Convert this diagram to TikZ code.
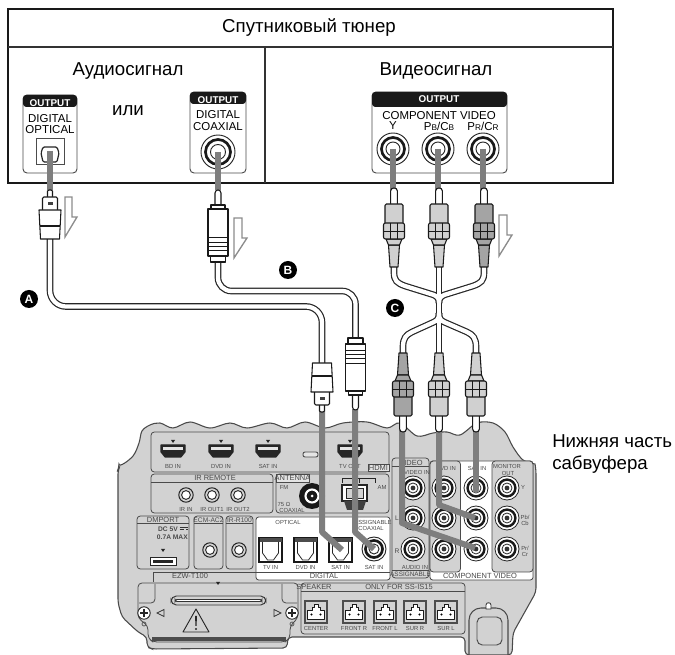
\documentclass[tikz,border=0pt]{standalone}
\usepackage{fontspec}
\setmainfont{Liberation Sans}
\definecolor{panel-gray}{HTML}{D2D2D2}
\definecolor{tag-gray}{HTML}{E4E4E4}
\definecolor{panel-line}{HTML}{4A4A4A}
\definecolor{signal-gray}{HTML}{7E7E7E}
\definecolor{plug-light}{HTML}{D0D0D0}
\definecolor{plug-dark}{HTML}{A4A4A4}
\definecolor{label-gray}{HTML}{4A4A4A}
\newcommand{\lowcap}[1]{{\fontsize{6.2}{7}\selectfont #1}}
\tikzset{
  bigtext/.style={font=\fontsize{14}{16.5}\selectfont, inner sep=0pt, anchor=base},
  outtext/.style={font=\fontsize{8.6}{9}\selectfont, inner sep=0pt},
  headtext/.style={font=\fontsize{7.4}{8}\selectfont\bfseries, text=white, inner sep=0pt},
  tinytext/.style={font=\fontsize{4.4}{5}\selectfont, text=label-gray, inner sep=0pt},
  tagtext/.style={font=\fontsize{5.6}{6}\selectfont, text=label-gray, inner sep=0pt},
  marker/.style={circle, fill=black, text=white, minimum size=13.5pt, inner sep=0pt,
        font=\fontsize{9}{9}\selectfont\bfseries},
  outpanel/.style={draw=panel-line, fill=white, line width=.7pt, rounded corners=3pt},
  subpanel/.style={draw=panel-line, fill=panel-gray, line width=.6pt, rounded corners=2.5pt},
  whitepanel/.style={draw=panel-line, fill=white, line width=.6pt, rounded corners=2pt},
  tagbox/.style={draw=panel-line, fill=tag-gray, line width=.5pt},
  signal/.style={draw=signal-gray, line width=4.5pt},
  cableout/.style={draw=black!85, line width=5pt},
  cablein/.style={draw=white, line width=3.2pt},
  flowarrow/.style={draw=black!45, line width=1pt, fill=white, line join=miter},
  plugline/.style={draw=black!90, line width=.8pt, line join=round},
  pics/rcajack/.style={code={
      \draw[black!85, line width=.6pt, fill=white] (0,0) circle (12);
      \draw[black!90, line width=1.8pt] (0,0) circle (8.4);
      \draw[black!85, line width=.6pt, fill=white] (0,0) circle (5);
      \fill[black!80] (0,0) circle (2.4);}},
  pics/smalljack/.style={code={
      \draw[black!85, line width=.8pt, fill=panel-gray] (0,0) circle (7.2);
      \draw[black!85, line width=.7pt, fill=white] (0,0) circle (4.4);}},
  pics/hdmisocket/.style={code={
      \draw[black!85, line width=.8pt, fill=black!85, line join=round]
        (-12,-6) -- (12,-6) -- (12,1) -- (8,6) -- (-8,6) -- (-12,1) -- cycle;
      \fill[panel-gray!60!white] (-10,-4) -- (10,-4) -- (10,-1.2) -- (-10,-1.2) -- cycle;}},
  pics/optsocket/.style={code={
      \draw[black!90, line width=1pt, fill=white] (-11.5,-12) rectangle (11.5,12);
      \fill[black!70] (-11,-11.5) rectangle (11,-8);
      \draw[black!85, line width=.6pt] (-8,-8) -- (-8,3) -- (-3,10) -- (3,10) -- (8,3) -- (8,-8);}},
  pics/spksocket/.style={code={
      \draw[black!70, line width=1pt, fill=panel-gray] (-11,-11) rectangle (11,11);
      \draw[black!90, line width=.6pt, fill=white, line join=round]
        (-8.5,7.5) -- (8.5,7.5) -- (8.5,-1.5) -- (4,-1.5) -- (4,-4.5) -- (2,-4.5) -- (2,-8)
        -- (-2,-8) -- (-2,-4.5) -- (-4,-4.5) -- (-4,-1.5) -- (-8.5,-1.5) -- cycle;
      \fill[black] (-4.5,2.5) circle (1.2) (4.5,2.5) circle (1.2);}},
  pics/optplug/.style={code={
      \draw[plugline, fill=white] (-2.5,7) -- (-2.5,1) -- (-1,0) -- (1,0) -- (2.5,1) -- (2.5,7);
      \draw[plugline, fill=white, rounded corners=1pt] (-7.5,20) -- (-7.5,7) -- (7.5,7) -- (7.5,20);
      \fill[black!75] (-2.5,12) rectangle (2.5,15);
      \draw[plugline, fill=white] (-11,20) -- (11,20) -- (9.5,49) -- (-9.5,49) -- cycle;
      \draw[plugline] (-10.4,36) -- (10.4,36);}},
  pics/coaxplug/.style={code={
      \draw[plugline, fill=white] (-3,15) -- (-3,3) .. controls (-3,-1) and (3,-1) .. (3,3) -- (3,15);
      \draw[plugline, fill=white] (-7,19) -- (-7,15) -- (7,15) -- (7,19);
      \draw[plugline, fill=white] (-10,19) rectangle (10,66);
      \draw[plugline, line width=.7pt] (-10,47) -- (10,47) (-10,52) -- (10,52)
        (-10,56) -- (10,56) (-10,60) -- (10,60);
      \draw[plugline, fill=white] (-7.5,66) rectangle (7.5,72);}},
  pics/rcaplug/.style={code={
      \draw[plugline, fill=white] (-3.4,16) -- (-3.4,3) .. controls (-3.4,-1) and (3.4,-1) .. (3.4,3) -- (3.4,16);
      \draw[plugline, fill=#1, rounded corners=1pt] (-9,35) -- (-9,16) -- (9,16) -- (9,35);
      \draw[plugline, fill=#1] (-5.5,57) -- (5.5,57) -- (4,79) -- (-4,79) -- cycle;
      \draw[plugline, fill=#1] (-8,51) -- (8,51) -- (5.5,57) -- (-5.5,57) -- cycle;
      \draw[plugline, fill=#1, rounded corners=1.5pt] (-10.5,35) rectangle (10.5,51);
      \draw[plugline, line width=.5pt] (-10.5,43) -- (10.5,43) (-3.5,35) -- (-3.5,51) (3.5,35) -- (3.5,51);}},
}

\begin{document}
\begin{tikzpicture}[x=0.75pt, y=-0.75pt]
  \useasboundingbox (0,0) rectangle (675,655);

  % tuner box
  \draw[black!90, line width=1.6pt] (8,9) rectangle (613,183);
  \draw[black!80, line width=.8pt] (8,47) -- (613,47) (265,47) -- (265,183);
  \node[bigtext] (TUNER) at (309,32.5) {Спутниковый тюнер};
  \node[bigtext] (AUDIO) at (128,76) {Аудиосигнал};
  \node[bigtext] (VIDEO) at (436,76) {Видеосигнал};
  \node[bigtext] (OR) at (128,116) {или};

  % output panels
  \draw[outpanel] (23,95) rectangle (77,173);
  \draw[outpanel] (190,92) rectangle (246,173);
  \draw[outpanel] (372,92) rectangle (507,173);
  \fill[black!90, rounded corners=2.5pt] (23,95) -- (77,95) -- (77,107) -- (23,107) -- cycle;
  \fill[black!90, rounded corners=2.5pt] (190,92) -- (246,92) -- (246,104) -- (190,104) -- cycle;
  \fill[black!90, rounded corners=2.5pt] (372,92) -- (507,92) -- (507,107) -- (372,107) -- cycle;
  \node[headtext] (OUTA) at (50,103) {OUTPUT};
  \node[headtext] (OUTB) at (218,100) {OUTPUT};
  \node[headtext] (OUTC) at (439,99.5) {OUTPUT};
  \node[outtext] (DIGA) at (50,118.5) {DIGITAL};
  \node[outtext] (OPTL) at (50,129.5) {OPTICAL};
  \node[outtext] (DIGB) at (218,115) {DIGITAL};
  \node[outtext] (COAXL) at (218,127) {COAXIAL};
  \node[outtext] (COMPL) at (439,116) {COMPONENT VIDEO};
  \node[outtext] (YL) at (393,126) {Y};
  \node[outtext] (PBL) at (439,126) {P\lowcap{B}/C\lowcap{B}};
  \node[outtext] (PRL) at (483,126) {P\lowcap{R}/C\lowcap{R}};

  % tuner sockets
  \draw[black!70, line width=.7pt] (36,138) rectangle (64,164);
  \draw[black!85, line width=.9pt, fill=white, rounded corners=1pt]
    (43,147) -- (57,147) -- (59,153) -- (57,162) -- (43,162) -- (41,153) -- cycle;
  \coordinate (JOPT) at (50,151);
  \coordinate (JCOAX) at (218,152);
  \draw[black!85, line width=.7pt, fill=white] (JCOAX) circle (17);
  \draw[black!90, line width=2pt] (JCOAX) circle (12.5);
  \draw[black!85, line width=.7pt, fill=white] (JCOAX) circle (7.5);
  \foreach \jx/\jname in {393/JY, 438/JB, 483/JR} {
    \coordinate (\jname) at (\jx,149);
    \draw[black!85, line width=.7pt, fill=white] (\jname) circle (16);
    \draw[black!90, line width=2pt] (\jname) circle (11.5);
    \draw[black!85, line width=.7pt, fill=white] (\jname) circle (7);
  }

  % flow arrows
  \draw[flowarrow] (65,197) -- (72,197) -- (72,217) -- (77,217) -- (65,237) -- cycle;
  \draw[flowarrow] (234,218) -- (242,218) -- (242,238) -- (247,238) -- (234,258) -- cycle;
  \draw[flowarrow] (499,215) -- (507,215) -- (507,235) -- (512,235) -- (499,256) -- cycle;

  % subwoofer outline
  \draw[fill=panel-gray, draw=panel-line, line width=.8pt]
    plot[smooth, tension=.55] coordinates {(119,468) (133,456) (139,443) (142,431) (150,425) (160,423) (173,428) (190,422) (210,428) (230,423) (247,428) (270,423) (287,428) (305,422) (325,428) (343,423) (367,422) (387,428) (400,423) (417,436) (433,433) (447,432) (460,435) (477,423) (493,423) (505,432) (513,447) (523,460) (535,464)}
    [rounded corners=3pt] -- (536,470) -- (536,592) -- (513,633) -- (512,655) -- (465,655) -- (465,637)
    -- (288,637) -- (287,648) -- (152,649) -- (147,647) -- (147,637) -- (138,632) -- (122,617) -- (118,603) -- (118,470) -- cycle;

  % hdmi row
  \draw[subpanel] (151,432) rectangle (389,472);
  \foreach \hx/\hname/\hlab in {173/BD/BD IN, 221/DVD/DVD IN, 268/SAT/SAT IN, 350/TV/TV OUT} {
    \pic at (\hx,451) {hdmisocket};
    \fill[black!85] (\hx-2,440) -- (\hx+2,440) -- (\hx,443) -- cycle;
    \node[tinytext] (HDMI\hname) at (\hx,466) {\hlab};
  }
  \draw[black!70, line width=.7pt, fill=tag-gray, rounded corners=1.5pt] (303,452) rectangle (318,457);
  \draw[tagbox] (368,464) rectangle (389,471);
  \node[tagtext] (HDMITAG) at (378.5,467.5) {HDMI};

  % ir remote and antenna
  \draw[subpanel] (151,474) rectangle (273,513);
  \draw[panel-line, line width=.6pt] (151,482) -- (273,482);
  \node[tagtext] (IRTAG) at (215,478) {IR REMOTE};
  \foreach \ix/\iname/\ilab in {186/A/IR IN, 212/B/IR OUT1, 238/C/IR OUT2} {
    \pic at (\ix,495) {smalljack};
    \node[tinytext] (IR\iname) at (\ix,509) {\ilab};
  }
  \draw[subpanel] (276,474) rectangle (389,513);
  \draw[tagbox] (276,474) rectangle (309,482);
  \node[tagtext] (ANTTAG) at (292.5,478) {ANTENNA};
  \node[tinytext] (FM) at (284,487) {FM};
  \node[tinytext] (OHM) at (284,504) {75 Ω};
  \node[tinytext] (ANTCOAX) at (292,510) {COAXIAL};
  \fill[black!90] (312,496) circle (13);
  \draw[white, line width=1.6pt] (312,496) circle (6.5);
  \fill[white] (312,496) circle (1.5);
  \draw[black!85, line width=.6pt] (342,483) -- (342,478) -- (375,478) -- (375,483) (359,478) -- (359,483);
  \node[tinytext] (AMLAB) at (382,487) {AM};
  \draw[black!85, line width=.8pt, fill=white] (342,485) rectangle (367,501);
  \draw[black!85, line width=.7pt, fill=panel-gray] (346,488) rectangle (353,498) (356,488) rectangle (363,498);
  \fill[black!75] (344,501) -- (366,501) -- (363,510) -- (347,510) -- cycle;

  % dmport row
  \draw[subpanel] (137,516) rectangle (189,569);
  \draw[panel-line, line width=.6pt] (137,523) -- (189,523);
  \node[tagtext] (DMTAG) at (163,520) {DMPORT};
  \node[tinytext, anchor=east, font=\fontsize{5}{5}\selectfont\bfseries] (DCLAB) at (178,529) {DC 5V};
  \draw[black!80, line width=.4pt] (179.5,527.5) -- (188,527.5);
  \draw[black!80, line width=.4pt, densely dashed] (179.5,529.5) -- (188,529.5);
  \node[tinytext, anchor=east, font=\fontsize{5}{5}\selectfont\bfseries] (AMPLAB) at (188,537) {0.7A MAX};
  \fill[black!85] (161,549) -- (165,549) -- (163,552) -- cycle;
  \draw[black!85, line width=.7pt, fill=white] (150,557) rectangle (176,565);
  \fill[black!85] (153,560) rectangle (173,563);
  \draw[subpanel] (194,516) rectangle (223,569);
  \draw[panel-line, line width=.6pt] (194,523) -- (223,523);
  \node[tagtext, font=\fontsize{5}{5}\selectfont] (ECMTAG) at (208.5,520) {ECM-AC2};
  \pic at (210,550) {smalljack};
  \draw[subpanel] (226,516) rectangle (253,569);
  \draw[panel-line, line width=.6pt] (226,523) -- (253,523);
  \node[tagtext, font=\fontsize{5}{5}\selectfont] (IRRTAG) at (239.5,520) {IR-R100};
  \pic at (239,550) {smalljack};

  % digital block
  \draw[whitepanel] (256,517) rectangle (390,580);
  \draw[panel-line, line width=.6pt] (256,572) -- (390,572) (352,517) -- (352,532);
  \node[tagtext] (DIGFOOT) at (324,576) {DIGITAL};
  \node[tinytext] (OPTHEAD) at (288,522) {OPTICAL};
  \node[tinytext] (ASSHEAD) at (373,522) {ASSIGNABLE};
  \node[tinytext] (COAXHEAD) at (371,528) {COAXIAL};
  \foreach \ox/\oname/\olab in {270.5/TV/TV IN, 305.5/DVD/DVD IN, 340.5/SAT/SAT IN} {
    \pic at (\ox,550) {optsocket};
    \node[tinytext] (OPT\oname) at (\ox,567) {\olab};
  }
  \coordinate (COAXEND) at (374,549);
  \draw[black!85, line width=.7pt] (COAXEND) circle (12);
  \draw[black!90, line width=2pt] (COAXEND) circle (8.5);
  \draw[black!85, line width=.7pt, fill=white] (COAXEND) circle (5);
  \node[tinytext] (SATCOAX) at (374,567) {SAT IN};

  % video in and component block
  \draw[subpanel] (392,458) rectangle (429,578);
  \draw[panel-line, line width=.6pt] (392,466) -- (429,466) (392,570) -- (429,570);
  \node[tagtext] (VIDTAG) at (411,462.5) {VIDEO};
  \node[tinytext] (VIDIN) at (417,472) {VIDEO IN};
  \node[tinytext, font=\fontsize{5}{5}\selectfont] (LLAB) at (397,518) {L};
  \node[tinytext, font=\fontsize{5}{5}\selectfont] (RLAB) at (397,551) {R};
  \node[tinytext] (AUDIOIN) at (415,567) {AUDIO IN};
  \node[tagtext, font=\fontsize{4.8}{5}\selectfont] (ASSFOOT) at (410.5,574.5) {ASSIGNABLE};
  \draw[whitepanel] (430,461) rectangle (533,580);
  \draw[subpanel] (430,461) rectangle (460.5,572);
  \draw[subpanel] (492,461) rectangle (533,572);
  \node[tagtext] (COMPFOOT) at (480,576) {COMPONENT VIDEO};
  \node[tinytext] (DVDCOMP) at (446,468) {DVD IN};
  \node[tinytext] (SATCOMP) at (477,468) {SAT IN};
  \node[tinytext] (MONLAB) at (507,466) {MONITOR};
  \node[tinytext] (OUTLAB) at (508,473) {OUT};
  \node[tinytext] (YMON) at (523,487) {Y};
  \node[tinytext] (PBMON) at (525,517) {Pb/};
  \node[tinytext] (CBMON) at (525,523) {Cb};
  \node[tinytext] (PRMON) at (525,548) {Pr/};
  \node[tinytext] (CRMON) at (525,554) {Cr};
  \foreach \vx in {413,444,476,507}
    \foreach \vy in {488,518,549}
      \pic at (\vx,\vy) {rcajack};

  % ezw module
  \draw[panel-line, line width=.6pt] (153,582) -- (153,572) -- (256,572);
  \node[tagtext] (EZWTAG) at (190,576) {EZW-T100};
  \draw[draw=panel-line, fill=panel-gray, line width=.6pt, rounded corners=3pt]
    (138,583) -- (298,583) -- (298,618) -- (290,626) -- (290,638) -- (285,642)
    -- (153,642) -- (148,638) -- (148,626) -- (138,618) -- cycle;
  \fill[black!70] (152,637) rectangle (286,641.5);
  \draw[panel-line, line width=.6pt, rounded corners=3pt]
    (155,584) -- (155,603) -- (139,603) (282,584) -- (282,603) -- (297,603);
  \fill[black!85] (216,582) -- (220,582) -- (218,585) -- cycle;
  \draw[black!80, line width=.7pt, rounded corners=4pt] (171,596) rectangle (266,605);
  \draw[black!80, line width=.7pt, rounded corners=1.5pt, fill=white] (175,599.5) rectangle (262,601.5);
  \foreach \sx in {144,292} {
    \draw[black!85, line width=.7pt, fill=white] (\sx,613) circle (6.2);
    \draw[black!85, line width=.9pt] (\sx-3.6,613) -- (\sx+3.6,613) (\sx,609.4) -- (\sx,616.6);
    \draw[black!70, line width=.5pt] (\sx,624) circle (2);
  }
  \draw[black!80, line width=.6pt] (164,609.5) -- (157,613) -- (164,616.5) -- cycle;
  \draw[black!80, line width=.6pt] (274,609.5) -- (281,613) -- (274,616.5) -- cycle;
  \draw[black!85, line width=.7pt, line join=round] (196,609) -- (209,632) -- (183,632) -- cycle;
  \fill[black!85] (195,616) -- (197,616) -- (196.5,626) -- (195.5,626) -- cycle;
  \fill[black!85] (196,629) circle (1.2);

  % speaker block
  \draw[subpanel] (301,583) rectangle (465,634);
  \draw[panel-line, line width=.6pt] (301,591) -- (465,591);
  \node[tagtext] (SPKTAG) at (314,587) {SPEAKER};
  \node[tagtext] (ONLYTAG) at (399,587) {ONLY FOR SS-IS15};
  \foreach \kx/\kname/\klab in {316/CEN/CENTER, 354/FR/FRONT R, 385/FL/FRONT L, 415/SR/SUR R, 446/SL/SUR L} {
    \pic at (\kx,612) {spksocket};
    \node[tinytext] (SPK\kname) at (\kx,628) {\klab};
  }

  % stand
  \draw[panel-line, line width=.8pt, rounded corners=9pt] (469,655) -- (469,608) -- (508,608) -- (508,655);
  \draw[black!80, line width=.6pt, fill=white] (486,607) -- (486,605) .. controls (486,602) and (491,602) .. (491,605) -- (491,609) -- (486,609) -- cycle;
  \draw[panel-line, line width=.7pt, rounded corners=4pt] (477,617) rectangle (502,645);

  % signal runs
  \coordinate (TIPA) at (50,190);
  \coordinate (TIPB) at (218,190);
  \coordinate (TIPOPT) at (322,411);
  \coordinate (TIPCOAX) at (355,409);
  \draw[signal] (JOPT) -- (TIPA);
  \draw[signal] (JCOAX) -- (TIPB);
  \draw[signal] (JY) -- (393,190);
  \draw[signal] (JB) -- (438,190);
  \draw[signal] (JR) -- (483,190);
  \draw[signal, line join=round] (TIPOPT) -- (322,532) -- (342,550);
  \draw[signal, line join=round] (TIPCOAX) -- (355,532) -- (COAXEND);
  \draw[signal, line join=round] (402,430) -- (402,523) -- (475,548);
  \draw[signal, line join=round] (439,430) -- (439,505) -- (475,518);
  \draw[signal, line cap=round] (476,430) -- (476,490);

  % cables
  \coordinate (OPTA) at (50,238);
  \coordinate (OPTB) at (322,364);
  \coordinate (COAXA) at (218,261);
  \coordinate (COAXB) at (355.5,339);
  \coordinate (RUNA) at (0,306.5);
  \coordinate (RUNB) at (0,291);
  \coordinate (UPY) at (394,266);
  \coordinate (UPB) at (439,266);
  \coordinate (UPR) at (484,266);
  \coordinate (LOWY) at (403,354);
  \coordinate (LOWB) at (439,354);
  \coordinate (LOWR) at (476,354);
  \foreach \cablestyle in {cableout, cablein} {
    \draw[\cablestyle, rounded corners=12pt] (OPTA) -- (OPTA |- RUNA) -- (OPTB |- RUNA) -- (OPTB);
    \draw[\cablestyle, rounded corners=10pt] (COAXA) -- (COAXA |- RUNB) -- (COAXB |- RUNB) -- (COAXB);
    \draw[\cablestyle] (UPB) -- (LOWB);
    \draw[\cablestyle] (UPY) -- (394,272) .. controls (394,281) and (397,283) .. (405,286) -- (434,295) .. controls (438,297) and (439,299) .. (439,303);
    \draw[\cablestyle] (UPR) -- (484,272) .. controls (484,281) and (481,283) .. (473,286) -- (444,295) .. controls (440,297) and (439,299) .. (439,303);
    \draw[\cablestyle] (LOWY) -- (403,347) .. controls (403,338) and (406,335) .. (412,332) -- (434,322) .. controls (438,320) and (439,318) .. (439,313);
    \draw[\cablestyle] (LOWR) -- (476,347) .. controls (476,338) and (473,335) .. (467,332) -- (444,322) .. controls (440,320) and (439,318) .. (439,313);
  }

  % plugs
  \pic at (50,190) {optplug};
  \pic[yscale=-1] at (322,412) {optplug};
  \pic at (218,190) {coaxplug};
  \pic[yscale=-1] at (355.5,410) {coaxplug};
  \foreach \rx/\rcolor in {394/plug-light, 439/plug-light, 484/plug-dark}
    \pic at (\rx,188) {rcaplug=\rcolor};
  \foreach \rx/\rcolor in {403/plug-dark, 439/plug-light, 476/plug-light}
    \pic[yscale=-1] at (\rx,432) {rcaplug=\rcolor};

  % markers and side label
  \node[marker] (MARKA) at (29,299) {A};
  \node[marker] (MARKB) at (288,270) {B};
  \node[marker] (MARKC) at (395,308) {C};
  \node[bigtext, anchor=base west] (BOTTOMA) at (552,448) {Нижняя часть};
  \node[bigtext, anchor=base west] (BOTTOMB) at (552,470) {сабвуфера};
\end{tikzpicture}
\end{document}
